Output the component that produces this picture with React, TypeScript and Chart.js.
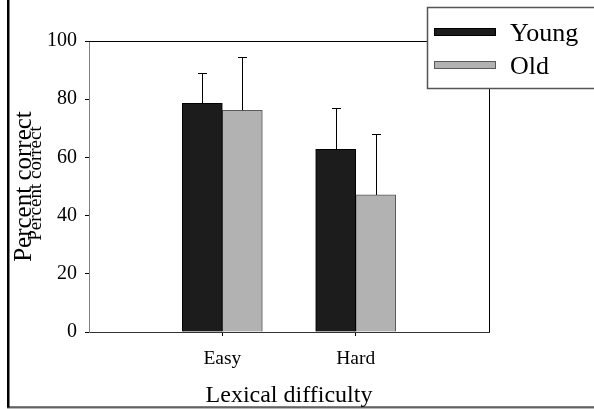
import { useEffect, useRef } from 'react';
import { Chart, registerables } from 'chart.js';

Chart.register(...registerables);

const categories = ['', 'Easy', 'Hard', ''];
const seriesNames = ['Young', 'Old'];
const youngValues = [null, 78.6, 62.8, null];
const oldValues = [null, 76.2, 47.1, null];
const youngErrors = [null, 10.3, 14.3, null];
const oldErrors = [null, 18.2, 20.8, null];
const yTicks = [0, 20, 40, 60, 80, 100];
const yTitle = 'Percent correct';
const xTitle = 'Lexical difficulty';

const SERIF = "'Liberation Serif', 'Times New Roman', serif";
const YOUNG_FILL = '#1c1c1c';
const YOUNG_BORDER = '#000000';
const OLD_FILL = '#b2b2b2';
const OLD_BORDER = '#5a5a5a';

const errorsBySeries = [youngErrors, oldErrors];

const decorPlugin = {
  id: 'decor',
  beforeDraw(chart: any) {
    const ctx = chart.ctx;
    ctx.save();
    ctx.fillStyle = '#ffffff';
    ctx.fillRect(0, 0, chart.width, chart.height);
    // outer figure frame
    ctx.fillStyle = '#000';
    ctx.fillRect(7, 0, 2.5, 408);
    ctx.fillRect(7, 406.5, chart.width, 1.2);
    ctx.fillStyle = '#9a9a9a';
    ctx.fillRect(7, 407.7, chart.width, 1);
    // secondary small y title
    ctx.translate(36.5, 183.5);
    ctx.rotate(-Math.PI / 2);
    ctx.fillStyle = '#000';
    ctx.font = `19px ${SERIF}`;
    ctx.textAlign = 'center';
    ctx.textBaseline = 'middle';
    ctx.fillText(yTitle, 0, 0);
    ctx.restore();
  },
  afterDatasetsDraw(chart: any) {
    const ctx = chart.ctx;
    const ys = chart.scales.y;
    const area = chart.chartArea;
    ctx.save();
    // error bars
    ctx.strokeStyle = '#000';
    ctx.lineWidth = 1;
    chart.data.datasets.forEach((ds: any, d: number) => {
      const meta = chart.getDatasetMeta(d);
      meta.data.forEach((el: any, i: number) => {
        const v = ds.data[i];
        const e = errorsBySeries[d][i];
        if (v == null || e == null) return;
        const x = Math.round(el.x) + 0.5;
        const yTop = ys.getPixelForValue(v);
        const yErr = Math.round(ys.getPixelForValue(v + e)) + 0.5;
        ctx.beginPath();
        ctx.moveTo(x, yTop);
        ctx.lineTo(x, yErr);
        ctx.moveTo(x - 4.5, yErr);
        ctx.lineTo(x + 4.5, yErr);
        ctx.stroke();
      });
    });
    // plot frame top and right
    ctx.beginPath();
    ctx.moveTo(area.left, Math.round(area.top) + 0.5);
    ctx.lineTo(area.right + 0.5, Math.round(area.top) + 0.5);
    ctx.lineTo(area.right + 0.5, area.bottom);
    ctx.stroke();
    ctx.restore();
  },
  afterDraw(chart: any) {
    const ctx = chart.ctx;
    ctx.save();
    // legend box
    ctx.fillStyle = '#fff';
    ctx.fillRect(427.5, 7.5, 200, 81);
    ctx.strokeStyle = '#555';
    ctx.lineWidth = 1.5;
    ctx.strokeRect(427.5, 7.5, 200, 81);
    const swatches = [
      { y: 28, fill: YOUNG_FILL, border: YOUNG_BORDER, base: 41 },
      { y: 61, fill: OLD_FILL, border: OLD_BORDER, base: 74 },
    ];
    ctx.font = `26px ${SERIF}`;
    ctx.textBaseline = 'alphabetic';
    ctx.textAlign = 'left';
    seriesNames.forEach((name, i) => {
      const s = swatches[i];
      ctx.fillStyle = s.fill;
      ctx.fillRect(434.5, s.y + 0.5, 61, 7);
      ctx.strokeStyle = s.border;
      ctx.lineWidth = 1;
      ctx.strokeRect(434.5, s.y + 0.5, 61, 7);
      ctx.fillStyle = '#000';
      ctx.fillText(name, 510, s.base);
    });
    ctx.restore();
  },
};

export default function App() {
  const canvasRef = useRef<HTMLCanvasElement | null>(null);

  useEffect(() => {
    if (!canvasRef.current) return;
    const chart = new Chart(canvasRef.current, {
      type: 'bar',
      data: {
        labels: categories,
        datasets: [
          {
            label: seriesNames[0],
            data: youngValues,
            backgroundColor: YOUNG_FILL,
            borderColor: YOUNG_BORDER,
            borderWidth: 1,
            barThickness: 40,
          },
          {
            label: seriesNames[1],
            data: oldValues,
            backgroundColor: OLD_FILL,
            borderColor: OLD_BORDER,
            borderWidth: 1,
            barThickness: 40,
          },
        ],
      },
      options: {
        responsive: false,
        maintainAspectRatio: false,
        animation: false,
        devicePixelRatio: 1,
        layout: { padding: { top: 41, right: 105, left: 0, bottom: 0 } },
        plugins: {
          legend: { display: false },
          tooltip: { enabled: false },
        },
        scales: {
          x: {
            type: 'category',
            offset: false,
            ticks: {
              font: { family: SERIF, size: 19.5 },
              color: '#000',
              padding: 11,
              autoSkip: false,
              maxRotation: 0,
            },
            grid: {
              offset: false,
              drawOnChartArea: false,
              color: (c: any) => (c.index === 1 || c.index === 2 ? '#000' : 'rgba(0,0,0,0)'),
              tickLength: 4,
            },
            border: { color: '#333', width: 1 },
            title: {
              display: true,
              text: xTitle,
              color: '#000',
              font: { family: SERIF, size: 24, lineHeight: 1.1 },
              padding: 0,
            },
            afterFit: (s: any) => {
              s.height = 77;
            },
          },
          y: {
            min: 0,
            max: 100,
            afterBuildTicks: (s: any) => {
              s.ticks = yTicks.map((v) => ({ value: v }));
            },
            ticks: {
              font: { family: SERIF, size: 20 },
              color: '#000',
              padding: 8,
            },
            grid: {
              drawOnChartArea: false,
              color: '#000',
              tickLength: 4,
            },
            border: { color: '#808080', width: 1 },
            title: {
              display: true,
              text: yTitle,
              color: '#000',
              font: { family: SERIF, size: 25 },
              padding: { top: 9, bottom: 0 },
            },
            afterFit: (s: any) => {
              s.width = 89;
            },
          },
        },
      },
      plugins: [decorPlugin],
    } as any);
    return () => chart.destroy();
  }, []);

  return (
    <div style={{ position: 'fixed', left: 0, top: 0, width: 594, height: 409, background: '#fff' }}>
      <canvas ref={canvasRef} width={594} height={409} style={{ display: 'block' }} />
    </div>
  );
}
